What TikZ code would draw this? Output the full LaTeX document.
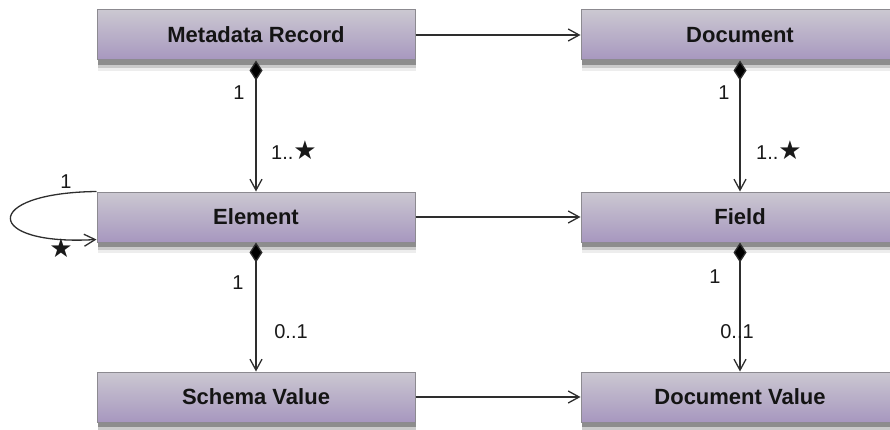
\documentclass[tikz,border=0pt]{standalone}
\usepackage{fontspec}
\setmainfont{Liberation Sans}
\newfontfamily\starfont{DejaVu Sans}
\usepackage{tikz}
\usetikzlibrary{shadows}
\usetikzlibrary{arrows.meta}
\usepackage{xcolor}
\definecolor{boxtop}{HTML}{CBC8D1}
\definecolor{boxbot}{HTML}{A797BF}
\definecolor{boxline}{HTML}{8C8A90}
\definecolor{wire}{HTML}{2E2E2E}
\newcommand{\many}{{\starfont\scalebox{1.3}{\char"2605}}}
\tikzset{
  cls/.style={rectangle, draw=boxline, line width=1pt, top color=boxtop, bottom color=boxbot,
    minimum width=318pt, minimum height=50pt, inner sep=0pt,
    font=\fontsize{22}{26}\selectfont\bfseries, text=black!92,
    drop shadow={shadow xshift=1pt, shadow yshift=-11pt, opacity=.07, fill=black},
    drop shadow={shadow xshift=1pt, shadow yshift=-8pt, opacity=.15, fill=black},
    drop shadow={shadow xshift=1pt, shadow yshift=-5pt, opacity=.3, fill=black}},
  assoc/.style={draw=wire, line width=1.3pt, -{Straight Barb[length=11pt,width=12pt,line width=1.3pt]}},
  comp/.style={draw=wire, line width=1.3pt,
    {Diamond[length=20pt,width=13pt,fill=black]}-{Straight Barb[length=11pt,width=12pt,line width=1.3pt]}},
  mult/.style={font=\fontsize{20}{24}\selectfont, text=black!90, inner sep=0pt}
}
\begin{document}
\begin{tikzpicture}[x=1pt,y=1pt]
\useasboundingbox (0,0) rectangle (890,429);
% classes, left column
\node[cls] (record) at (256,394) {Metadata Record};
\node[cls] (element) at (256,212) {Element};
\node[cls] (schema) at (256,32) {Schema Value};
% classes, right column
\node[cls] (doc) at (740,394) {Document};
\node[cls] (field) at (740,212) {Field};
\node[cls] (docval) at (740,32) {Document Value};
% mappings
\draw[assoc] (record) -- (doc);
\draw[assoc] (element) -- (field);
\draw[assoc] (schema) -- (docval);
% containment
\draw[comp] (record) -- (element);
\draw[comp] (element) -- (schema);
\draw[comp] (doc) -- (field);
\draw[comp] (field) -- (docval);
% self reference
\draw[assoc] (element.north west) .. controls (-20,236) and (-16,183) .. ([yshift=3pt]element.south west);
% multiplicities
\node[mult] (m1) at (239,336) {1};
\node[mult] (m2) at (294,279) {1..\many};
\node[mult] (m3) at (724,336) {1};
\node[mult] (m4) at (779,279) {1..\many};
\node[mult] (m5) at (238,146) {1};
\node[mult] (m6) at (291,97) {0..1};
\node[mult] (m7) at (715,152) {1};
\node[mult] (m8) at (737,97) {0..1};
\node[mult] (m9) at (66,247) {1};
\node[mult] (m10) at (61,181) {\many};
\end{tikzpicture}
\end{document}
